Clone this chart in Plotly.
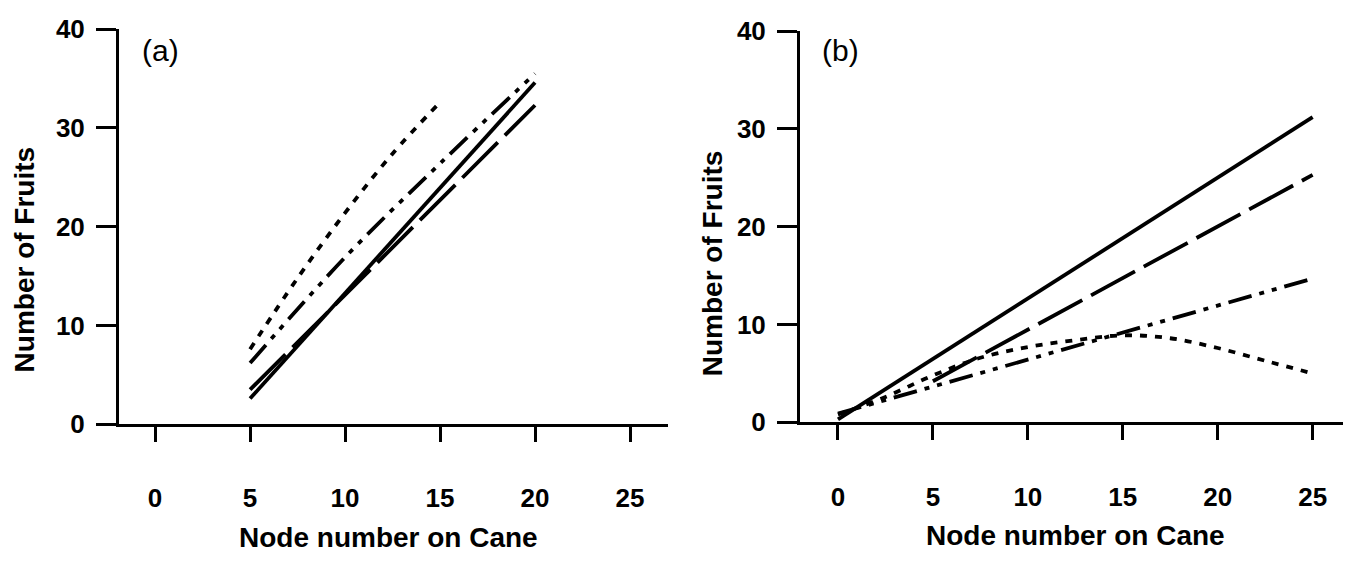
import plotly.graph_objects as go

# ---------------- data ----------------
# Panel (a)
a_solid_x = [5, 20]
a_solid_y = [2.6, 34.6]
a_longdash_x = [5, 20]
a_longdash_y = [3.5, 32.3]
a_dashdot_x = [5, 10, 15, 20]
a_dashdot_y = [6.2, 16.9, 26.4, 35.5]
a_dotted_x = [5, 7.5, 10, 12.5, 15]
a_dotted_y = [7.6, 14.8, 21.4, 27.4, 32.6]

# Panel (b)
b_solid_x = [0, 25]
b_solid_y = [0.3, 31.2]
b_longdash_x = [5, 25]
b_longdash_y = [4.2, 25.3]
b_dashdot_x = [0, 25]
b_dashdot_y = [0.9, 14.7]
b_dotted_x = [0, 2.5, 5, 7.5, 10, 12.5, 15, 17.5, 20, 22.5, 25]
b_dotted_y = [0.8, 2.6, 4.8, 6.6, 7.7, 8.4, 8.9, 8.6, 7.6, 6.3, 5.0]

x_ticks = [0, 5, 10, 15, 20, 25]
y_ticks = [0, 10, 20, 30, 40]
x_title = "Node number on Cane"
y_title = "Number of Fruits"
panel_labels = ["(a)", "(b)"]

# ---------------- styles ----------------
W, H = 1350, 570
LW = 3.8
DOT = "7px,8px"
LONG = "50px,10px"
DDD = "24px,8px,5px,8px,5px,8px"
FONT = "Liberation Sans, Arial, sans-serif"

fig = go.Figure()

def add(x, y, dash, xa, ya, shape="linear"):
    fig.add_trace(go.Scatter(
        x=x, y=y, mode="lines", xaxis=xa, yaxis=ya,
        line=dict(color="black", width=LW, dash=dash, shape=shape),
        showlegend=False, hoverinfo="skip"))

add(a_solid_x, a_solid_y, "solid", "x", "y")
add(a_longdash_x, a_longdash_y, LONG, "x", "y")
add(a_dashdot_x, a_dashdot_y, DDD, "x", "y", "spline")
add(a_dotted_x, a_dotted_y, DOT, "x", "y", "spline")

add(b_solid_x, b_solid_y, "solid", "x2", "y2")
add(b_longdash_x, b_longdash_y, LONG, "x2", "y2")
add(b_dashdot_x, b_dashdot_y, DDD, "x2", "y2")
add(b_dotted_x, b_dotted_y, DOT, "x2", "y2", "spline")

tickfont = dict(family=FONT, size=26, color="black", weight="bold")

def xaxis(domain, rng, anchor):
    return dict(domain=domain, range=rng, anchor=anchor,
                tickvals=x_ticks, ticktext=[str(v) for v in x_ticks],
                ticks="outside", ticklen=15, tickwidth=3, tickcolor="black",
                showline=True, linewidth=3, linecolor="black",
                showgrid=False, zeroline=False, tickfont=tickfont,
                ticklabelstandoff=34, fixedrange=True)

def yaxis(domain, anchor):
    return dict(domain=domain, range=[0, 40], anchor=anchor,
                tickvals=y_ticks, ticktext=[str(v) for v in y_ticks],
                ticks="outside", ticklen=20, tickwidth=3, tickcolor="black",
                showline=True, linewidth=3, linecolor="black",
                showgrid=False, zeroline=False, tickfont=tickfont,
                ticklabelstandoff=6, fixedrange=True)

fig.update_layout(
    width=W, height=H,
    margin=dict(l=0, r=0, t=0, b=0),
    paper_bgcolor="white", plot_bgcolor="white",
    xaxis=xaxis([119 / W, 668 / W], [-1.9, 27.0], "y"),
    yaxis=yaxis([(H - 432) / H, (H - 15) / H], "x"),
    xaxis2=xaxis([800 / W, 1343 / W], [-2.0, 26.6], "y2"),
    yaxis2=yaxis([(H - 430) / H, (H - 17) / H], "x2"),
)

title_font = dict(family=FONT, size=28, color="black", weight="bold")
label_font = dict(family=FONT, size=30, color="black")
ann = [
    dict(text=x_title, x=388 / W, y=(H - 551) / H, font=title_font),
    dict(text=x_title, x=1075 / W, y=(H - 549) / H, font=title_font),
    dict(text=y_title, x=24 / W, y=(H - 258) / H, textangle=-90, font=title_font),
    dict(text=y_title, x=712 / W, y=(H - 262) / H, textangle=-90, font=title_font),
    dict(text=panel_labels[0], x=160 / W, y=(H - 38) / H, font=label_font),
    dict(text=panel_labels[1], x=840 / W, y=(H - 38) / H, font=label_font),
]
for a in ann:
    a.update(xref="paper", yref="paper", showarrow=False,
             xanchor="center", yanchor="middle")
fig.update_layout(annotations=ann)

fig.write_html("out.html", config={"displayModeBar": False})
